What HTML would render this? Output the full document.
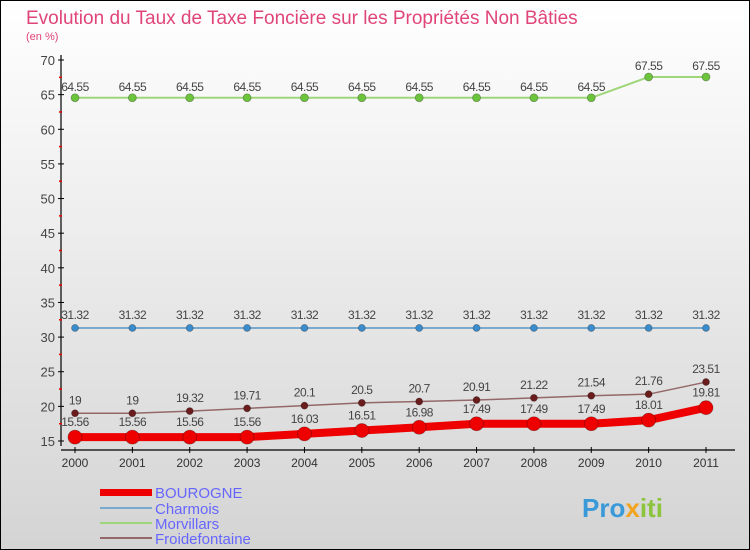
<!DOCTYPE html>
<html><head><meta charset="utf-8"><style>
body{margin:0}
svg{display:block;font-family:"Liberation Sans",sans-serif}
</style></head><body>
<svg id="c" width="750" height="550">
<defs><linearGradient id="bg" x1="0" y1="0" x2="0" y2="1"><stop offset="0" stop-color="#ffffff"/><stop offset="1" stop-color="#d4d4d4"/></linearGradient></defs>
<rect x="0.5" y="0.5" width="749" height="549" fill="url(#bg)" stroke="#000"/>
<text x="26" y="24" font-size="19" fill="#e0457a">Evolution du Taux de Taxe Foncière sur les Propriétés Non Bâties</text>
<text x="26" y="40" font-size="11" fill="#e0457a">(en %)</text>
<g id="axes"></g><g id="series"></g>
<g>
<rect x="100" y="489" width="52" height="7" fill="#e00"/>
<text x="155" y="498" font-size="15" fill="#6666ff">BOUROGNE</text>
<line x1="100" y1="508" x2="152" y2="508" stroke="#79a9cc" stroke-width="2"/>
<text x="155" y="514" font-size="15" fill="#6666ff">Charmois</text>
<line x1="100" y1="523" x2="152" y2="523" stroke="#9ed67a" stroke-width="2"/>
<text x="155" y="529" font-size="15" fill="#6666ff">Morvillars</text>
<line x1="100" y1="538" x2="152" y2="538" stroke="#946868" stroke-width="2"/>
<text x="155" y="544" font-size="15" fill="#6666ff">Froidefontaine</text>
</g>
<text x="582" y="517" font-size="26" font-weight="bold" fill="#3a9ad9">Pro<tspan fill="#f2a41c">x</tspan><tspan fill="#8cc43c">iti</tspan></text>
</svg>
<script>
const years=["2000","2001","2002","2003","2004","2005","2006","2007","2008","2009","2010","2011"];
const yTicks=[15,20,25,30,35,40,45,50,55,60,65,70];
const bourogne=[15.56,15.56,15.56,15.56,16.03,16.51,16.98,17.49,17.49,17.49,18.01,19.81];
const charmois=[31.32,31.32,31.32,31.32,31.32,31.32,31.32,31.32,31.32,31.32,31.32,31.32];
const morvillars=[64.55,64.55,64.55,64.55,64.55,64.55,64.55,64.55,64.55,64.55,67.55,67.55];
const froide=[19,19,19.32,19.71,20.1,20.5,20.7,20.91,21.22,21.54,21.76,23.51];
const NS="http://www.w3.org/2000/svg";
const X=i=>75+i*(706-75)/(years.length-1);
const Y=v=>441-(v-15)*(441-60)/55;
function mk(t,a,p){const e=document.createElementNS(NS,t);for(const k in a)e.setAttribute(k,a[k]);p.appendChild(e);return e;}
const ax=document.getElementById('axes');
let e=mk('line',{x1:61,y1:55,x2:61,y2:446,stroke:'#000','stroke-width':1.2},ax);


e=mk('line',{x1:61,y1:450,x2:735,y2:450,stroke:'#000','stroke-width':1.2},ax);


yTicks.forEach(v=>{const y=Y(v);
mk('line',{x1:58,y1:y,x2:64,y2:y,stroke:'#000'},ax);
if(v<70)mk('line',{x1:59,y1:Y(v+2.5),x2:62,y2:Y(v+2.5),stroke:'#e00','stroke-width':1.5},ax);
const t=mk('text',{x:55,y:y+5,'font-size':13,fill:'#444','text-anchor':'end'},ax);t.textContent=v;

});
years.forEach((yr,i)=>{const x=X(i);
mk('line',{x1:x,y1:447,x2:x,y2:453,stroke:'#000'},ax);
const t=mk('text',{x:x,y:467,'font-size':12,fill:'#333','text-anchor':'middle'},ax);t.textContent=yr;

});
const sg=document.getElementById('series');
function series(data,name,color,w,r,fill,lblOff){
const g=mk('g',{},sg);


mk('polyline',{points:data.map((v,i)=>X(i)+','+Y(v)).join(' '),fill:'none',stroke:color,'stroke-width':w,'stroke-linejoin':'round'},g);
data.forEach((v,i)=>{const c=mk('circle',{cx:X(i),cy:Y(v),r:r,fill:fill,stroke:'rgba(0,0,0,0.3)','stroke-width':0.8},g);


const t=mk('text',{x:X(i),y:Y(v)+lblOff,'font-size':12,fill:'#444','text-anchor':'middle','letter-spacing':'-0.5'},g);t.textContent=v;

});}
series(morvillars,'morvillars','#9ed67a',2,4,'#6cc43c',-7);
series(charmois,'charmois','#79a9cc',2,3.5,'#3a8ccc',-9);
series(froide,'froidefontaine','#946868',1.5,3.5,'#6b1c1c',-9);
series(bourogne,'bourogne','#e00',8,7,'#e00',-11);
</script>
</body></html>
